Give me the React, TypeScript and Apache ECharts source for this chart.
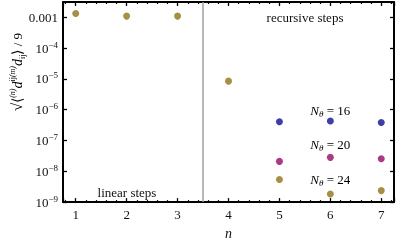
import React, { useEffect, useRef } from "react";
import * as echarts from "echarts";

// ---- data ----
const nLinear = [1, 2, 3, 4];
const linearValues = [1.34e-3, 1.1e-3, 1.1e-3, 8.5e-6];
const nRecursive = [5, 6, 7];
const n16Values = [4.1e-7, 4.3e-7, 3.85e-7];
const n20Values = [2.1e-8, 2.84e-8, 2.57e-8];
const n24Values = [5.4e-9, 1.84e-9, 2.36e-9];
const splitAt = [3.5];
const nThetaLabels = ["16", "20", "24"];
const nThetaAnchor = [4.3e-7, 2.84e-8, 1.84e-9];

const GOLD = "#a78f45";
const BLUE = "#3d3fa6";
const MAGENTA = "#aa3a84";
const FONT = "Liberation Serif";
const TXT = "#111";

const pairs = (xs: number[], ys: number[]) => xs.map((x, i) => [x, Math.log10(ys[i])]);

export default function App() {
  const ref = useRef<HTMLDivElement>(null);
  useEffect(() => {
    if (!ref.current) return;
    const chart = echarts.init(ref.current, null, { renderer: "svg" });

    const frameLine = { show: true, onZero: false, lineStyle: { color: "#000", width: 2 } };
    const tick = { show: true, inside: true, length: 4, lineStyle: { color: "#000", width: 1.3 } };
    const minor = { show: true, splitNumber: 5, length: 2, lineStyle: { color: "#000", width: 1.2 } };

    const xBase = { type: "value", min: 0.75, max: 7.25, splitLine: { show: false }, axisLine: frameLine, axisTick: tick, minorTick: minor };
    const yBase = { type: "value", min: -9, max: -2.5, interval: 1, splitLine: { show: false }, axisLine: frameLine, axisTick: tick };

    const yFmt = (v: number) => {
      const e = Math.round(v);
      if (Math.abs(v - e) > 1e-6) return "";
      if (e === -3) return "0.001";
      return `{b|10}{s|\u2212${-e}}`;
    };

    const scatter = (name: string, data: number[][], color: string, extra: any = {}) => ({
      type: "scatter",
      name,
      data,
      symbolSize: 7,
      itemStyle: { color, opacity: 1 },
      ...extra,
    });

    const labelGraphics: any[] = [];
    const yPix = (v: number) =>
      chart.convertToPixel({ xAxisIndex: 0, yAxisIndex: 0 } as any, [6, Math.log10(v)]) as number[];

    const option: any = {
      animation: false,
      grid: { left: 63, right: 5, top: 2, bottom: 39 },
      xAxis: [
        {
          ...xBase,
          position: "bottom",
          name: "n",
          nameLocation: "middle",
          nameGap: 23,
          nameTextStyle: { fontFamily: FONT, fontSize: 14, fontStyle: "italic", color: TXT },
          axisLabel: {
            margin: 6,
            fontFamily: FONT,
            fontSize: 13,
            color: TXT,
            showMinLabel: false,
            showMaxLabel: false,
            formatter: (v: number) => (Number.isInteger(v) ? String(v) : ""),
          },
        },
        { ...xBase, position: "top", axisLabel: { show: false } },
      ],
      yAxis: [
        {
          ...yBase,
          position: "left",
          axisLabel: {
            margin: 5,
            fontFamily: FONT,
            fontSize: 13,
            color: TXT,
            showMaxLabel: false,
            formatter: yFmt,
            rich: {
              b: { fontFamily: FONT, fontSize: 13, color: TXT, lineHeight: 16 },
              s: { fontFamily: FONT, fontSize: 9, color: TXT, lineHeight: 9, verticalAlign: "top" },
            },
          },
        },
        { ...yBase, position: "right", axisLabel: { show: false } },
      ],
      series: [
        scatter("linear", pairs(nLinear, linearValues), GOLD, {
          markLine: {
            silent: true,
            symbol: ["none", "none"],
            label: { show: false },
            lineStyle: { color: "#a0a0a0", width: 1.5, type: "solid" },
            data: splitAt.map((x) => ({ xAxis: x })),
          },
        }),
        scatter("N16", pairs(nRecursive, n16Values), BLUE),
        scatter("N20", pairs(nRecursive, n20Values), MAGENTA),
        scatter("N24", pairs(nRecursive, n24Values), GOLD),
      ],
    };
    chart.setOption(option);

    // annotations
    const nThetaRich = {
      i: { fontFamily: FONT, fontSize: 13, fontStyle: "italic", color: TXT, lineHeight: 16 },
      sub: { fontFamily: FONT, fontSize: 9, fontStyle: "italic", color: TXT, lineHeight: 9, verticalAlign: "bottom" },
      t: { fontFamily: FONT, fontSize: 13, color: TXT, lineHeight: 16 },
    };
    const nOffsets = [-11, -13, -14];
    nThetaLabels.forEach((lab, i) => {
      const p = yPix(nThetaAnchor[i]);
      labelGraphics.push({
        type: "text",
        x: p[0] - 20,
        y: p[1] + nOffsets[i],
        style: {
          text: `{i|N}{sub|\u03b8}{t| = ${lab}}`,
          rich: nThetaRich,
          align: "left",
          verticalAlign: "middle",
        },
      });
    });
    const yRich = {
      r: { fontFamily: FONT, fontSize: 15, color: TXT, lineHeight: 18 },
      a: { fontFamily: FONT, fontSize: 14, color: TXT, lineHeight: 18 },
      s: { fontFamily: FONT, fontSize: 8, fontStyle: "italic", color: TXT, lineHeight: 9, verticalAlign: "top" },
      i: { fontFamily: FONT, fontSize: 14, fontStyle: "italic", color: TXT, lineHeight: 18 },
      u: { fontFamily: FONT, fontSize: 8, color: TXT, lineHeight: 9, verticalAlign: "top" },
      b: { fontFamily: FONT, fontSize: 8, color: TXT, lineHeight: 9, verticalAlign: "bottom" },
      t: { fontFamily: FONT, fontSize: 13, color: TXT, lineHeight: 18 },
    };
    labelGraphics.push(
      {
        type: "text",
        x: 305,
        y: 17,
        style: { text: "recursive steps", fontFamily: FONT, fontSize: 13, fill: TXT, align: "center", verticalAlign: "middle" },
      },
      {
        type: "text",
        x: 127,
        y: 192,
        style: { text: "linear steps", fontFamily: FONT, fontSize: 13, fill: TXT, align: "center", verticalAlign: "middle" },
      },
      {
        type: "text",
        x: 17,
        y: 72,
        rotation: Math.PI / 2,
        style: {
          text: "{r|\u221a}{a|\u27e8}{s|(n)}{i|d}{u|ij}{s|(m)}{i|d}{b|ij}{a|\u27e9}{t| / 9}",
          rich: yRich,
          align: "center",
          verticalAlign: "middle",
        },
      }
    );
    chart.setOption({ graphic: labelGraphics });

    return () => chart.dispose();
  }, []);
  return <div ref={ref} style={{ position: "fixed", left: 0, top: 0, width: 399, height: 245 }} />;
}
